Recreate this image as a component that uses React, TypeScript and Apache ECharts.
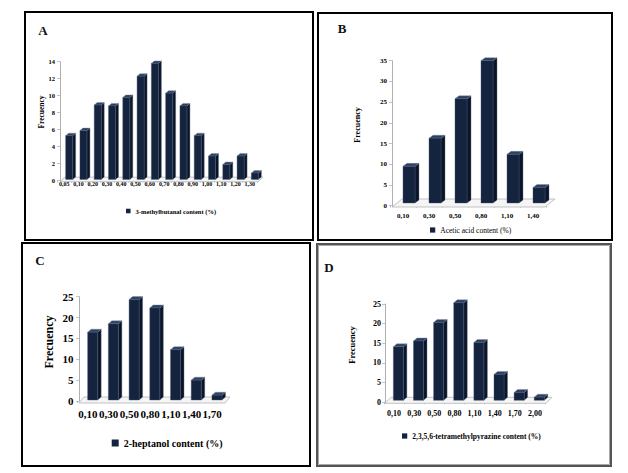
import React, { useEffect, useRef } from "react";
import * as echarts from "echarts";

// ---- data ----
const catsA = ["0,05", "0,10", "0,20", "0,30", "0,40", "0,50", "0,60", "0,70", "0,80", "0,90", "1,00", "1,10", "1,20", "1,30"];
const valsA = [5.3, 5.9, 8.9, 8.8, 9.8, 12.3, 13.8, 10.3, 8.8, 5.3, 2.9, 1.9, 2.9, 0.9];
const catsB = ["0,10", "0,30", "0,50", "0,80", "1,10", "1,40"];
const valsB = [9.5, 16.3, 25.8, 35, 12.4, 4.4];
const catsC = ["0,10", "0,30", "0,50", "0,80", "1,10", "1,40", "1,70"];
const valsC = [16.5, 18.5, 24.3, 22.3, 12.3, 5.0, 1.4];
const catsD = ["0,10", "0,30", "0,50", "0,80", "1,10", "1,40", "1,70", "2,00"];
const valsD = [14.1, 15.6, 20.3, 25.3, 15.2, 7.1, 2.5, 1.3];
const namesS = ["3-methylbutanal content (%)", "Acetic acid content (%)", "2-heptanol content (%)", "2,3,5,6-tetramethylpyrazine content (%)"];
const yMaxes = [14, 35, 25, 25];
const yIntervals = [2, 5, 5, 5];
const letters = ["A", "B", "C", "D"];
const yTitle = "Frecuency";

const FONT = "'Liberation Serif', 'Times New Roman', serif";

// ---- layout / style ----
const layout = [
  { grid: { left: 57, top: 61.7, width: 200, height: 119 }, yOff: -3, ySize: 6.5, xSize: 6, xMargin: 0, yMargin: 5,
    bar: { w: 7, ox: 5, dx: 3, dy: 2.5 }, floor: { fl: 3, fr: 1, fdx: 5, fdy: 4.5, fy: 1 },
    title: { x: 41, y: 112, size: 7.5 }, legend: { left: 126, top: 207.5, size: 6.5, weight: "bold" },
    letter: { x: 43, y: 30 }, border: { x: 25, y: 12, w: 288, h: 228, c: "#000", lw: 2 } },
  { grid: { left: 390, top: 60.7, width: 156, height: 145 }, yOff: -2, ySize: 7, xSize: 7, xMargin: 7, yMargin: 5,
    bar: { w: 12, ox: 6, dx: 4, dy: 3 }, floor: { fl: 2, fr: -1, fdx: 10, fdy: 8, fy: 1.3 },
    title: { x: 357, y: 125, size: 8 }, legend: { left: 430, top: 226, size: 7.5, weight: "normal" },
    letter: { x: 342, y: 28 }, border: { x: 318, y: 13, w: 294, h: 227, c: "#000", lw: 2 } },
  { grid: { left: 77.6, top: 296.7, width: 145, height: 104.3 }, yOff: -1.5, ySize: 11, xSize: 11, xMargin: 7.5, yMargin: 5.5,
    bar: { w: 10, ox: 4.7, dx: 3.5, dy: 3 }, floor: { fl: 1.4, fr: 2.4, fdx: 5, fdy: 6, fy: 2 },
    title: { x: 49, y: 342, size: 12 }, legend: { left: 111.7, top: 438, size: 10, weight: "bold" },
    letter: { x: 40, y: 260 }, border: { x: 22, y: 243, w: 288, h: 223, c: "#000", lw: 2 } },
  { grid: { left: 384, top: 304, width: 161, height: 98.3 }, yOff: -1, ySize: 8, xSize: 8, xMargin: 6.7, yMargin: 4,
    bar: { w: 10, ox: 4.3, dx: 3.5, dy: 3 }, floor: { fl: 1, fr: 1, fdx: 6, fdy: 6, fy: 1 },
    title: { x: 352, y: 345, size: 8.5 }, legend: { left: 402, top: 432, size: 7.5, weight: "bold" },
    letter: { x: 329, y: 267 }, border: { x: 317, y: 244, w: 294, h: 222, c: "#555", lw: 2, inner: "#a8a8a8" } },
];

const FRONT = "#14243f";
const SIDE = "#0a1528";
const TOPC = "#2e4163";

const allCats = [catsA, catsB, catsC, catsD];
const allVals = [valsA, valsB, valsC, valsD];

function makeRender(k: number) {
  const L = layout[k];
  return (params: any, api: any) => {
    const i = api.value(0);
    const v = api.value(1);
    const t = api.coord([i, v]);
    const z = api.coord([i, 0]);
    const cs = params.coordSys;
    const { w, ox, dx, dy } = L.bar;
    const f = L.floor;
    const frontY = z[1] + f.fy;
    const by = frontY - f.fdy / 2;
    const x0 = t[0] + ox - w / 2;
    const x1 = t[0] + ox + w / 2;
    const ty = t[1];
    const children: any[] = [];
    if (params.dataIndex === 0) {
      const l = cs.x + f.fl;
      const r = cs.x + cs.width + f.fr;
      children.push({
        type: "polygon",
        shape: { points: [[l, frontY], [r, frontY], [r + f.fdx, frontY - f.fdy], [l + f.fdx, frontY - f.fdy]] },
        style: { fill: "#f5f5f5", stroke: "#b4b4b4", lineWidth: 0.8 },
      });
    }
    children.push({
      type: "polygon",
      shape: { points: [[x1, by], [x1, ty], [x1 + dx, ty - dy], [x1 + dx, by - dy]] },
      style: { fill: SIDE, stroke: "#5a6a84", lineWidth: 0.4 },
    });
    children.push({
      type: "polygon",
      shape: { points: [[x0, ty], [x1, ty], [x1 + dx, ty - dy], [x0 + dx, ty - dy]] },
      style: { fill: TOPC, stroke: "#7f8ca3", lineWidth: 0.4 },
    });
    children.push({
      type: "rect",
      shape: { x: x0, y: ty, width: w, height: by - ty },
      style: { fill: FRONT, stroke: "#44536e", lineWidth: 0.4 },
    });
    return { type: "group", children };
  };
}

export default function App() {
  const ref = useRef<HTMLDivElement>(null);
  useEffect(() => {
    if (!ref.current) return;
    const chart = echarts.init(ref.current, undefined, { renderer: "svg" });
    const grids = layout.map((L) => ({ ...L.grid, containLabel: false }));
    const xAxes = layout.map((L, k) => ({
      type: "category",
      gridIndex: k,
      data: allCats[k],
      boundaryGap: true,
      axisLine: { show: false },
      axisTick: { show: true, length: 2, lineStyle: { color: "#9a9a9a", width: 0.6 } },
      axisLabel: { interval: 0, margin: L.xMargin, fontFamily: FONT, fontSize: L.xSize, fontWeight: "bold", color: "#000" },
      splitLine: { show: false },
    }));
    const yAxes = layout.map((L, k) => ({
      type: "value",
      gridIndex: k,
      min: 0,
      max: yMaxes[k],
      interval: yIntervals[k],
      offset: L.yOff,
      axisLine: { show: true, lineStyle: { color: "#9a9a9a", width: 0.8 } },
      axisTick: { show: true, length: 3, lineStyle: { color: "#9a9a9a", width: 0.6 } },
      axisLabel: { margin: L.yMargin, fontFamily: FONT, fontSize: L.ySize, fontWeight: "bold", color: "#000" },
      splitLine: { show: false },
    }));
    const series = layout.map((L, k) => ({
      type: "custom",
      name: namesS[k],
      xAxisIndex: k,
      yAxisIndex: k,
      itemStyle: { color: FRONT },
      renderItem: makeRender(k),
      data: allCats[k].map((c, i) => [c, allVals[k][i]]),
      encode: { x: 0, y: 1 },
      clip: false,
    }));
    const legends = layout.map((L, k) => ({
      data: [namesS[k]],
      left: L.legend.left,
      top: L.legend.top,
      icon: "rect",
      itemWidth: L.legend.size * 0.7,
      itemHeight: L.legend.size * 0.7,
      padding: 0,
      selectedMode: false,
      textStyle: { fontFamily: FONT, fontSize: L.legend.size, fontWeight: L.legend.weight, color: "#000" },
    }));
    const graphics: any[] = [];
    layout.forEach((L: any, k) => {
      graphics.push({
        type: "rect",
        shape: { x: L.border.x, y: L.border.y, width: L.border.w, height: L.border.h },
        style: { fill: "none", stroke: L.border.c, lineWidth: L.border.lw },
        silent: true,
      });
      if (L.border.inner) {
        graphics.push({
          type: "rect",
          shape: { x: L.border.x + 1.5, y: L.border.y + 1.5, width: L.border.w - 3, height: L.border.h - 3 },
          style: { fill: "none", stroke: L.border.inner, lineWidth: 1 },
          silent: true,
        });
      }
      graphics.push({
        type: "text",
        x: L.letter.x,
        y: L.letter.y,
        style: { text: letters[k], fontFamily: FONT, fontSize: 13, fontWeight: "bold", fill: "#111", align: "center", verticalAlign: "middle" },
      });
      graphics.push({
        type: "text",
        x: L.title.x,
        y: L.title.y,
        rotation: Math.PI / 2,
        style: { text: yTitle, fontFamily: FONT, fontSize: L.title.size, fontWeight: "bold", fill: "#000", align: "center", verticalAlign: "middle" },
      });
    });
    chart.setOption({
      animation: false,
      backgroundColor: "#fff",
      grid: grids,
      xAxis: xAxes,
      yAxis: yAxes,
      legend: legends,
      series,
      graphic: graphics,
    });
    return () => chart.dispose();
  }, []);
  return <div ref={ref} style={{ position: "fixed", left: 0, top: 0, width: 628, height: 473 }} />;
}
